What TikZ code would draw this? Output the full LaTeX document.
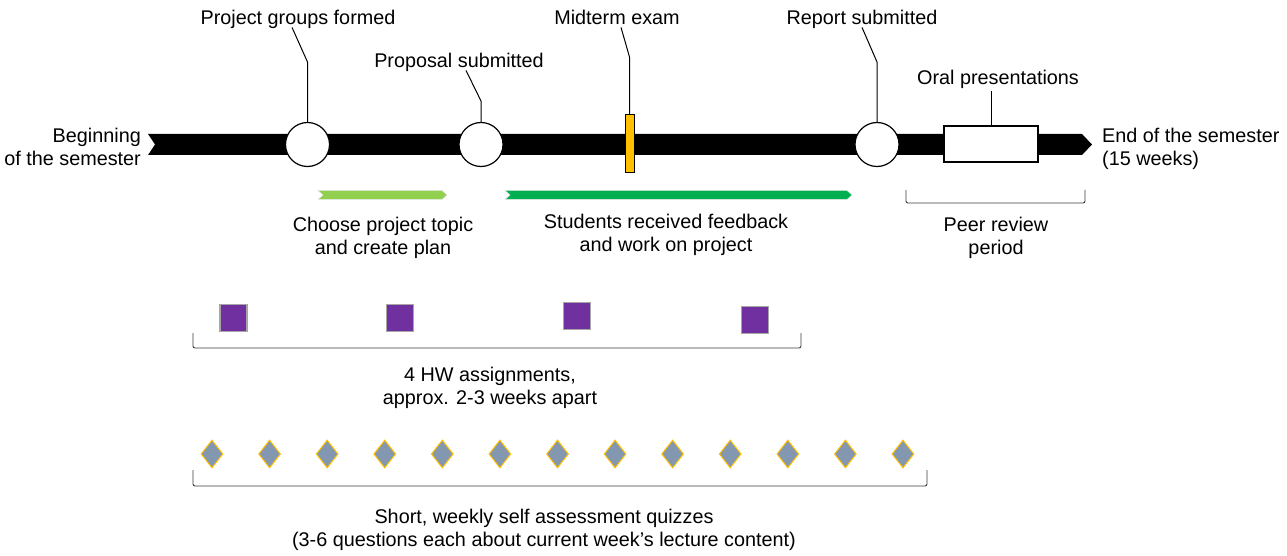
\documentclass[tikz,border=0pt]{standalone}
\usepackage{fontspec}
\setmainfont{Liberation Sans}
\usepackage{xcolor}
\usepackage{tikz}
\usetikzlibrary{shapes.geometric}
\usetikzlibrary{calc}
\tikzset{>=latex}
\definecolor{hwpurple}{RGB}{112,48,160}
\definecolor{quizblue}{RGB}{132,151,176}
\definecolor{quizgold}{RGB}{255,192,0}
\definecolor{lightgr}{RGB}{146,208,80}
\definecolor{darkgr}{RGB}{0,176,80}
\definecolor{brack}{RGB}{60,60,60}
\tikzstyle{lbl}=[font=\fontsize{19.8}{23}\selectfont,inner sep=0pt,anchor=north]
\tikzstyle{milestone}=[circle,draw=black,fill=white,line width=1.2pt,minimum size=44pt,inner sep=0pt]
\tikzstyle{leader}=[draw=black,line width=1pt]
\tikzstyle{bracket}=[draw=brack,line width=0.9pt,rounded corners=2pt]
\tikzstyle{hw}=[rectangle,fill=hwpurple,draw=black!35,line width=1.5pt,minimum size=27pt,inner sep=0pt]
\tikzstyle{quiz}=[diamond,fill=quizblue,draw=quizgold,line width=1pt,minimum width=22pt,minimum height=28pt,inner sep=0pt]
\begin{document}
\begin{tikzpicture}[x=1pt,y=-1pt]
      \useasboundingbox (0,0) rectangle (1287,556);
      \fill[black] (148,134) -- (1082,134) -- (1092,144.5) -- (1082,155) -- (148,155) -- (155,144.5) -- cycle;
      \node[lbl,anchor=north east,align=right] (start) at (141,126) {\strut Beginning\\of the semester};
      \node[lbl,anchor=north west,align=left] (finish) at (1102,126) {\strut End of the semester\\(15 weeks)};
      \node[milestone] (groups) at (307.5,144.5) {};
      \node[milestone] (proposal) at (481,144.5) {};
      \node[milestone] (report) at (877,144.5) {};
      \node[rectangle,draw=black,fill=quizgold,line width=1pt,minimum width=9pt,minimum height=58pt,inner sep=0pt] (midterm) at (629.5,144) {};
      \node[rectangle,draw=black,fill=white,line width=1.2pt,minimum width=94pt,minimum height=36pt,inner sep=0pt] (oral) at (991,144) {};
      \node[lbl] (lgroups) at (298,8) {\strut Project groups formed};
      \node[lbl] (lproposal) at (459,51) {\strut Proposal submitted};
      \node[lbl] (lmidterm) at (617,8) {\strut Midterm exam};
      \node[lbl] (lreport) at (862,8) {\strut Report submitted};
      \node[lbl] (loral) at (998,68) {\strut Oral presentations};
      \coordinate (bgroups) at (307.5,62);
      \coordinate (bproposal) at (481,101);
      \coordinate (bmidterm) at (629.5,57);
      \coordinate (breport) at (877,62);
      \draw[leader] (groups.north) -- (bgroups) -- ([xshift=-6pt,yshift=4pt]lgroups.south);
      \draw[leader] (proposal.north) -- (bproposal) -- ([xshift=7pt,yshift=4pt]lproposal.south);
      \draw[leader] (midterm.north) -- (bmidterm) -- ([xshift=4pt,yshift=4pt]lmidterm.south);
      \draw[leader] (report.north) -- (breport) -- ([xshift=0pt,yshift=4pt]lreport.south);
      \draw[leader] (oral.north) -- (oral.north |- loral.south);
      \fill[lightgr,draw=black!10,line width=0.5pt] (318,190.5) -- (442,190.5) -- (447,195) -- (442,199.5) -- (318,199.5) -- (323,195) -- cycle;
      \fill[darkgr,draw=black!10,line width=0.5pt] (505,190.5) -- (847,190.5) -- (852,195) -- (847,199.5) -- (505,199.5) -- (510,195) -- cycle;
      \node[lbl,align=center] (ltopic) at (383,215) {\strut Choose project topic\\and create plan};
      \node[lbl,align=center] (lwork) at (666,212) {\strut Students received feedback\\and work on project};
      \draw[bracket] (906,190) -- (906,203) -- (1085,203) -- (1085,190);
      \node[lbl,align=center] (lpeer) at (996,215) {\strut Peer review\\period};
      \node[hw] (hw1) at (233.5,318) {};
      \node[hw] (hw2) at (400,318) {};
      \node[hw] (hw3) at (577,316) {};
      \node[hw] (hw4) at (755,320) {};
      \draw[bracket] (193,333) -- (193,348) -- (801,348) -- (801,333);
      \node[lbl,align=center] (lhw) at (490,365) {\strut 4 HW assignments,\\approx. 2-3 weeks apart};
      \foreach \i in {0,...,12}
        \node[quiz] (q\i) at ({212+\i*57.58},454) {};
      \draw[bracket] (193,470) -- (193,486) -- (927,486) -- (927,470);
      \node[lbl,align=center] (lquiz) at (544,507) {\strut Short, weekly self assessment quizzes\\(3-6 questions each about current week’s lecture content)};
    \end{tikzpicture}
\end{document}
